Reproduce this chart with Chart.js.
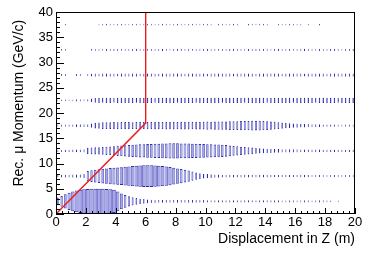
<!DOCTYPE html>
<html lang="en">
<head>
<meta charset="UTF-8">
<title>Rec. mu Momentum vs Displacement in Z</title>
<script src="https://cdn.jsdelivr.net/npm/chart.js"></script>
<style>
  body { margin: 0; background: #fff; }
  #wrap { width: 374px; height: 253px; }
</style>
</head>
<body>
<div id="wrap"><canvas id="myChart"></canvas></div>
<script>
// Z bin centres (m), 80 bins of 0.25 m
const zBins = [
  0.125, 0.375, 0.625, 0.875, 1.125, 1.375, 1.625, 1.875, 2.125, 2.375,
  2.625, 2.875, 3.125, 3.375, 3.625, 3.875, 4.125, 4.375, 4.625, 4.875,
  5.125, 5.375, 5.625, 5.875, 6.125, 6.375, 6.625, 6.875, 7.125, 7.375,
  7.625, 7.875, 8.125, 8.375, 8.625, 8.875, 9.125, 9.375, 9.625, 9.875,
  10.125, 10.375, 10.625, 10.875, 11.125, 11.375, 11.625, 11.875, 12.125, 12.375,
  12.625, 12.875, 13.125, 13.375, 13.625, 13.875, 14.125, 14.375, 14.625, 14.875,
  15.125, 15.375, 15.625, 15.875, 16.125, 16.375, 16.625, 16.875, 17.125, 17.375,
  17.625, 17.875, 18.125, 18.375, 18.625, 18.875, 19.125, 19.375, 19.625, 19.875
];

// momentum rows (GeV/c), centre of each 5 GeV/c bin
const pRows = [2.5, 7.5, 12.5, 17.5, 22.5, 27.5, 32.5, 37.5];

// box height (GeV/c) in each Z bin, one array per momentum row
const box_p0 = [
  1.5, 2.1, 2.8, 3.4, 3.9, 4.3, 4.6, 4.8, 4.9, 5.0,
  5.0, 5.0, 5.0, 4.9, 4.8, 4.6, 3.9, 3.1, 2.5, 2.0,
  1.6, 1.3, 1.05, 0.9, 0.75, 0.65, 0.6, 0.55, 0.5, 0.5,
  0.5, 0.5, 0.5, 0.5, 0.5, 0.5, 0.5, 0.5, 0.5, 0.5,
  0.45, 0.45, 0.45, 0.45, 0.45, 0.45, 0.45, 0.45, 0.45, 0.45,
  0.45, 0.45, 0.45, 0.45, 0.45, 0.45, 0.45, 0.45, 0.45, 0.45,
  0.4, 0.4, 0.4, 0.4, 0.4, 0.4, 0.4, 0.4, 0.4, 0.4,
  0.4, 0.4, 0.4, 0.35, 0, 0.35, 0, 0, 0, 0
];
const box_p5 = [
  0.5, 0.5, 0.5, 0.55, 0.6, 0.6, 0.65, 0.8, 2.0, 2.3,
  2.5, 2.7, 2.9, 3.0, 3.2, 3.3, 3.4, 3.5, 3.7, 3.8,
  4.0, 4.1, 4.2, 4.3, 4.3, 4.3, 4.2, 4.1, 4.0, 3.8,
  3.6, 3.3, 3.0, 2.8, 2.5, 2.2, 1.8, 1.4, 1.1, 0.9,
  0.8, 0.7, 0.65, 0.6, 0.55, 0.5, 0.5, 0.5, 0.5, 0.5,
  0.5, 0.5, 0.5, 0.5, 0.5, 0.5, 0.5, 0.45, 0.45, 0.45,
  0.45, 0.45, 0.45, 0.45, 0.45, 0.45, 0.45, 0.45, 0.4, 0.4,
  0.4, 0.4, 0.4, 0.4, 0.4, 0.4, 0.4, 0.4, 0.4, 0.4
];
const box_p10 = [
  0.4, 0.4, 0.45, 0.45, 0.5, 0.5, 0.5, 0.6, 1.2, 1.3,
  1.4, 1.45, 1.5, 1.6, 1.7, 1.8, 2.0, 2.1, 2.2, 2.3,
  2.4, 2.5, 2.6, 2.6, 2.7, 2.7, 2.8, 2.8, 2.9, 2.9,
  3.0, 3.0, 3.0, 2.9, 2.9, 2.9, 2.8, 2.8, 2.7, 2.7,
  2.6, 2.6, 2.5, 2.5, 2.4, 2.3, 2.1, 1.9, 1.8, 1.6,
  1.5, 1.4, 1.3, 1.15, 1.05, 0.95, 0.85, 0.8, 0.75, 0.7,
  0.65, 0.6, 0.6, 0.6, 0.6, 0.5, 0.5, 0.5, 0.5, 0.5,
  0.5, 0.45, 0.45, 0.45, 0.45, 0.45, 0.45, 0.45, 0.45, 0.45
];
const box_p15 = [
  0.4, 0.4, 0.4, 0.45, 0.45, 0.5, 0.5, 0.5, 0.55, 0.8,
  1.1, 1.2, 1.3, 1.3, 1.3, 1.4, 1.3, 1.4, 1.4, 1.4,
  1.3, 1.4, 1.4, 1.4, 1.4, 1.4, 1.5, 1.4, 1.4, 1.5,
  1.4, 1.5, 1.4, 1.5, 1.5, 1.5, 1.4, 1.5, 1.5, 1.5,
  1.6, 1.5, 1.6, 1.6, 1.6, 1.6, 1.7, 1.7, 1.7, 1.8,
  1.8, 1.8, 1.9, 1.9, 1.9, 1.8, 1.7, 1.6, 1.5, 1.35,
  1.2, 1.05, 0.95, 0.85, 0.8, 0.75, 0.7, 0.6, 0.55, 0.5,
  0.5, 0.45, 0.45, 0.45, 0.4, 0.4, 0.4, 0.4, 0.4, 0.4
];
const box_p20 = [
  0.3, 0.3, 0.35, 0.35, 0.35, 0.4, 0.4, 0.4, 0.45, 0.7,
  0.9, 1.0, 0.95, 1.0, 1.0, 0.95, 1.0, 1.0, 1.05, 1.0,
  1.0, 0.95, 1.0, 1.05, 1.0, 1.0, 0.95, 1.0, 1.0, 1.05,
  1.0, 1.0, 0.95, 1.0, 1.0, 1.05, 1.0, 0.95, 1.0, 1.0,
  1.0, 1.05, 1.0, 1.0, 0.95, 1.0, 1.0, 1.05, 1.0, 1.0,
  0.95, 1.0, 1.0, 1.05, 1.0, 1.0, 0.95, 1.0, 1.0, 1.0,
  1.05, 1.0, 1.0, 0.95, 1.0, 1.0, 1.05, 1.0, 1.0, 0.95,
  1.0, 1.0, 1.05, 1.0, 1.0, 0.95, 1.0, 1.0, 1.05, 1.0
];
const box_p25 = [
  0, 0.4, 0.4, 0, 0, 0.4, 0.4, 0, 0.4, 0.5,
  0.6, 0.55, 0.6, 0.6, 0.65, 0.6, 0.55, 0.6, 0.6, 0.65,
  0.6, 0.6, 0.55, 0.6, 0.6, 0.65, 0.6, 0.55, 0.6, 0.6,
  0.6, 0.65, 0.6, 0.6, 0.55, 0.6, 0.6, 0.6, 0.65, 0.6,
  0.55, 0.6, 0.6, 0.6, 0.65, 0.6, 0.6, 0.55, 0.6, 0.6,
  0.6, 0.65, 0.6, 0.55, 0.6, 0.6, 0.6, 0.65, 0.6, 0.6,
  0.55, 0.6, 0.6, 0.65, 0.6, 0.6, 0.55, 0.6, 0.6, 0.65,
  0.6, 0.6, 0.55, 0.6, 0.6, 0.65, 0.6, 0.6, 0.6, 0.65
];
const box_p30 = [
  0, 0.35, 0.35, 0, 0, 0, 0, 0, 0, 0.35,
  0.4, 0.4, 0.35, 0.4, 0.4, 0.45, 0.4, 0.35, 0.4, 0.4,
  0.4, 0.45, 0.4, 0.4, 0.35, 0.4, 0.4, 0.4, 0.45, 0.4,
  0.35, 0.4, 0.4, 0.45, 0.4, 0.4, 0.35, 0.4, 0.4, 0.4,
  0.45, 0.4, 0.4, 0.35, 0.4, 0.4, 0.45, 0.4, 0.4, 0.4,
  0.35, 0.4, 0.4, 0.45, 0.4, 0.4, 0.4, 0.35, 0.4, 0.45,
  0.4, 0.4, 0.4, 0.35, 0.4, 0.4, 0.45, 0.4, 0.4, 0.35,
  0.4, 0.4, 0.4, 0.45, 0.4, 0.4, 0.35, 0.4, 0.4, 0.45
];
const box_p35 = [
  0, 0, 0.3, 0, 0, 0, 0, 0, 0, 0,
  0, 0.3, 0.3, 0.3, 0.3, 0.3, 0.3, 0.3, 0.3, 0.3,
  0.3, 0.3, 0.3, 0.3, 0.3, 0.3, 0.3, 0.3, 0.3, 0.3,
  0.3, 0.3, 0.3, 0.3, 0.3, 0.3, 0.3, 0.3, 0.3, 0.3,
  0.3, 0.3, 0, 0.3, 0.3, 0.3, 0.3, 0.3, 0.3, 0,
  0, 0.3, 0.3, 0.3, 0.3, 0.3, 0.3, 0, 0, 0.3,
  0.3, 0.3, 0.3, 0.3, 0.3, 0.3, 0, 0.3, 0, 0,
  0.3, 0, 0, 0, 0, 0, 0, 0, 0, 0
];
const boxHeights = [box_p0, box_p5, box_p10, box_p15, box_p20, box_p25, box_p30, box_p35];

// red cut line
const cutZ = [0, 6, 6];
const cutP = [0, 18, 40];

// labelled ticks
const xTicks = [0, 2, 4, 6, 8, 10, 12, 14, 16, 18, 20];
const yTicks = [0, 5, 10, 15, 20, 25, 30, 35, 40];

Chart.defaults.font.family = '"Liberation Sans", Arial, sans-serif';
Chart.defaults.color = '#000';

const datasets = [{
    type: 'line',
    data: cutZ.map((z, i) => ({x: z, y: cutP[i]})),
    borderColor: 'rgb(238, 30, 30)',
    borderWidth: 1.4,
    pointRadius: 0,
    order: 0
}];

// one bar dataset per row and box width (ROOT BOX: width follows height)
pRows.forEach((pc, r) => {
    const groups = {};
    boxHeights[r].forEach((h, i) => {
        if (!h) return;
        const frac = Math.round(Math.min(1, h / 5 * 0.9 + 0.2) * 20) / 20;
        (groups[frac] = groups[frac] || []).push({x: zBins[i], y: [pc - h / 2, pc + h / 2]});
    });
    Object.keys(groups).forEach(frac => {
        datasets.push({
            type: 'bar',
            data: groups[frac],
            grouped: false,
            barPercentage: +frac,
            categoryPercentage: 1,
            backgroundColor: 'rgb(166, 166, 232)',
            borderColor: 'rgb(44, 44, 170)',
            borderWidth: {top: 1, bottom: 1, left: 0.7, right: 0.7},
            borderSkipped: false,
            inflateAmount: 0,
            order: 1
        });
    });
});

// ROOT style frame with inward ticks
const frameTicks = {
    id: 'frameTicks',
    afterDraw(chart) {
        const {ctx, chartArea: a, scales: {x, y}} = chart;
        ctx.save();
        ctx.strokeStyle = '#000';
        ctx.lineWidth = 1;
        ctx.beginPath();
        for (let k = 0; k <= 50; k++) {
            const px = Math.round(x.getPixelForValue(k * 0.4)) + 0.5;
            const len = k % 5 === 0 ? 6 : 3;
            ctx.moveTo(px, a.bottom);
            ctx.lineTo(px, a.bottom - len);
        }
        for (let k = 0; k <= 40; k++) {
            const py = Math.round(y.getPixelForValue(k)) + 0.5;
            const len = k % 5 === 0 ? 8 : 4;
            ctx.moveTo(a.left, py);
            ctx.lineTo(a.left + len, py);
        }
        ctx.stroke();
        ctx.strokeRect(a.left + 0.5, a.top + 0.5, a.right - a.left - 1, a.bottom - a.top - 1);
        ctx.restore();
    }
};

new Chart(document.getElementById('myChart'), {
    type: 'bar',
    data: {datasets},
    options: {
        responsive: true,
        maintainAspectRatio: false,
        animation: false,
        layout: {padding: {left: 0, right: 19, top: 12, bottom: 0}},
        plugins: {legend: {display: false}, tooltip: {enabled: false}},
        scales: {
            x: {
                type: 'linear', min: 0, max: 20, offset: false,
                grid: {display: false, drawTicks: false, tickLength: 0}, border: {display: false},
                afterBuildTicks: s => { s.ticks = xTicks.map(v => ({value: v})); },
                afterFit: s => { s.height = 39; },
                ticks: {font: {size: 13}, padding: 1, maxRotation: 0, autoSkip: false},
                title: {display: true, text: 'Displacement in Z (m)', align: 'end',
                        font: {size: 14}, padding: {top: 0, bottom: 5}}
            },
            y: {
                type: 'linear', min: 0, max: 40,
                grid: {display: false, drawTicks: false, tickLength: 0}, border: {display: false},
                afterBuildTicks: s => { s.ticks = yTicks.map(v => ({value: v})); },
                afterFit: s => { s.width = 56; },
                ticks: {font: {size: 13}, padding: 3, autoSkip: false},
                title: {display: true, text: 'Rec. μ Momentum (GeV/c)  ', align: 'end',
                        font: {size: 14}, padding: {top: 11, bottom: 0}}
            }
        }
    },
    plugins: [frameTicks]
});
</script>
</body>
</html>
